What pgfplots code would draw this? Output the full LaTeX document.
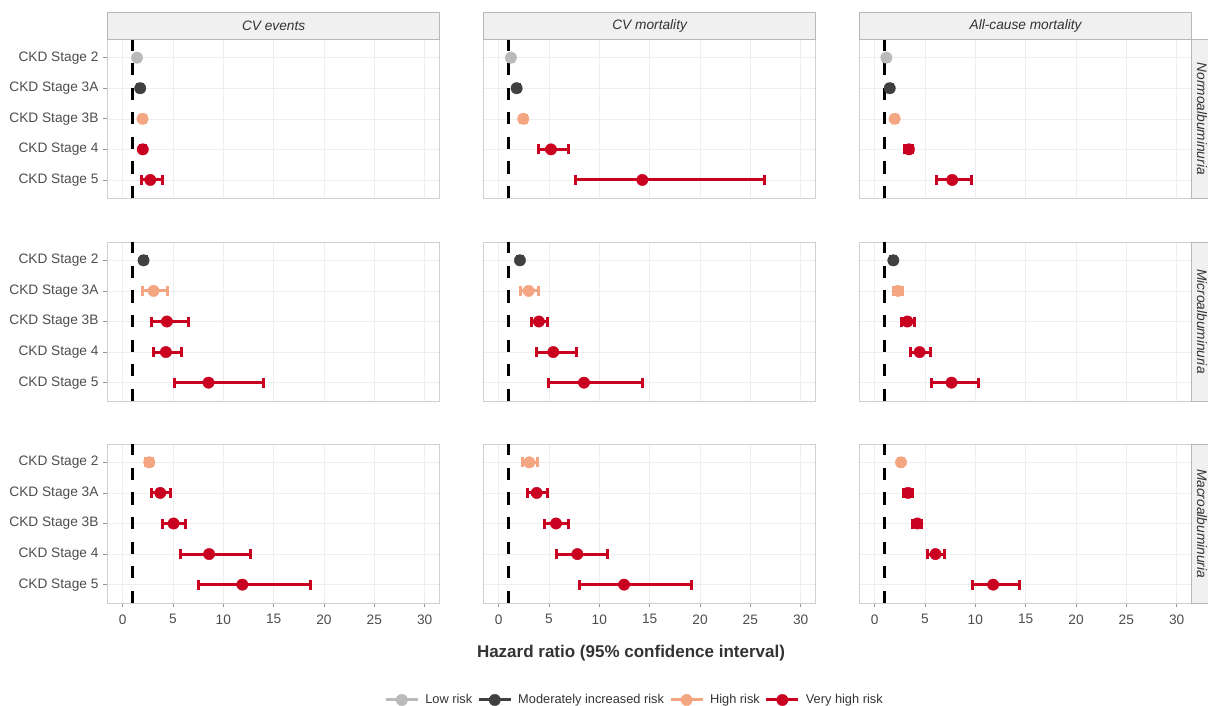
\documentclass[border=0pt]{standalone}
\usepackage{pgfplots}
\pgfplotsset{compat=1.18}
\usepackage{fontspec}
\setmainfont{Liberation Sans}
\definecolor{lowc}{HTML}{BABABA}
\definecolor{modc}{HTML}{404040}
\definecolor{highc}{HTML}{F4A582}
\definecolor{vhighc}{HTML}{CA0020}
\definecolor{gridc}{HTML}{EEEEEE}
\definecolor{framec}{HTML}{D0D0D0}
\definecolor{stripfill}{HTML}{F0F0F0}
\definecolor{stripdraw}{HTML}{B8B8B8}
\definecolor{labc}{HTML}{4D4D4D}
\definecolor{titc}{HTML}{333333}

\pgfplotsset{
  riskstyle/.style={only marks, mark=*, mark size=5.7pt, color=#1,
      mark options={draw=none, fill=#1},
      error bars/x dir=both, error bars/x explicit,
      error bars/error bar style={line width=3pt, color=#1},
      error bars/error mark options={line width=3pt, mark size=5pt, color=#1, rotate=90}},
  panel/.style={anchor=south west, scale only axis, width=332.3pt, height=159pt,
      xmin=-1.5, xmax=31.5, ymin=0.4, ymax=5.6, y dir=reverse,
      xtick={0,5,...,30}, ytick={1,2,3,4,5},
      xmajorgrids, ymajorgrids, major grid style={gridc, line width=0.6pt},
      axis line style={framec, line width=0.8pt},
      tick align=outside, major tick length=4pt,
      tick style={labc!60, line width=0.8pt},
      tick label style={font=\fontsize{13.7}{16}\selectfont, text=labc},
      xticklabel style={yshift=-4pt},
      yticklabel style={xshift=-1.5pt},
      /pgf/number format/assume math mode=true,
      xtick pos=bottom, ytick pos=left},
  leftcol/.style={yticklabels={CKD Stage 2,CKD Stage 3A,CKD Stage 3B,CKD Stage 4,CKD Stage 5}},
  notleft/.style={yticklabels={}, ytick style={draw=none}},
  notbottom/.style={xticklabels={}, xtick style={draw=none}},
}
\newcommand\refline{\addplot[black, line width=3pt, dash pattern=on 12.3pt off 12.3pt, forget plot] coordinates {(1,5.6) (1,0.4)};}
% #1 colour, #2 rows: y (1=Stage 2 ... 5=Stage 5), hazard ratio, lower CI, upper CI
\newcommand\rp[2]{\addplot[riskstyle=#1, forget plot] table[row sep=\\, x=hr, y=y, x error plus expr=\thisrow{hi}-\thisrow{hr}, x error minus expr=\thisrow{hr}-\thisrow{lo}] {y hr lo hi\\ #2};}

\begin{document}
\begin{tikzpicture}
\path[use as bounding box] (0pt,0pt) rectangle (1208pt,705pt);
% ---------- Row 1: Normoalbuminuria
\begin{axis}[panel, leftcol, notbottom, at={(107.5pt,506.7pt)}]
\refline
\rp{lowc}{1 1.43 1.18 1.68\\}
\rp{modc}{2 1.75 1.50 2.00\\}
\rp{highc}{3 1.98 1.73 2.23\\}
\rp{vhighc}{4 2.00 1.75 2.25\\ 5 2.75 1.92 3.93\\}
\end{axis}
\begin{axis}[panel, notleft, notbottom, at={(483.5pt,506.7pt)}]
\refline
\rp{lowc}{1 1.22 0.97 1.47\\}
\rp{modc}{2 1.79 1.54 2.04\\}
\rp{highc}{3 2.45 2.15 2.75\\}
\rp{vhighc}{4 5.20 3.94 6.99\\ 5 14.27 7.68 26.40\\}
\end{axis}
\begin{axis}[panel, notleft, notbottom, at={(859.5pt,506.7pt)}]
\refline
\rp{lowc}{1 1.17 0.92 1.42\\}
\rp{modc}{2 1.50 1.25 1.75\\}
\rp{highc}{3 1.99 1.74 2.24\\}
\rp{vhighc}{4 3.41 3.01 3.81\\ 5 7.71 6.12 9.65\\}
\end{axis}
% ---------- Row 2: Microalbuminuria
\begin{axis}[panel, leftcol, notbottom, at={(107.5pt,304pt)}]
\refline
\rp{modc}{1 2.08 1.83 2.33\\}
\rp{highc}{2 3.07 2.02 4.46\\}
\rp{vhighc}{3 4.40 2.91 6.54\\ 4 4.30 3.11 5.82\\ 5 8.53 5.19 14.04\\}
\end{axis}
\begin{axis}[panel, notleft, notbottom, at={(483.5pt,304pt)}]
\refline
\rp{modc}{1 2.12 1.87 2.37\\}
\rp{highc}{2 2.98 2.19 3.94\\}
\rp{vhighc}{3 4.00 3.31 4.87\\ 4 5.43 3.78 7.75\\ 5 8.48 5.00 14.24\\}
\end{axis}
\begin{axis}[panel, notleft, notbottom, at={(859.5pt,304pt)}]
\refline
\rp{modc}{1 1.86 1.61 2.11\\}
\rp{highc}{2 2.32 1.92 2.72\\}
\rp{vhighc}{3 3.25 2.65 3.97\\ 4 4.47 3.58 5.56\\ 5 7.64 5.66 10.35\\}
\end{axis}
% ---------- Row 3: Macroalbuminuria
\begin{axis}[panel, leftcol, at={(107.5pt,102pt)}]
\refline
\rp{highc}{1 2.65 2.30 3.00\\}
\rp{vhighc}{2 3.74 2.91 4.79\\ 3 5.06 4.00 6.28\\ 4 8.59 5.75 12.72\\ 5 11.89 7.57 18.67\\}
\end{axis}
\begin{axis}[panel, notleft, at={(483.5pt,102pt)},
  legend style={at={(0.4544,-0.61)}, anchor=center, draw=none, fill=none,
    legend columns=4, font=\fontsize{12.8}{15}\selectfont, text=titc,
    /tikz/every odd column/.append style={column sep=4pt},
    /tikz/every even column/.append style={column sep=3pt}},
  legend image code/.code={\draw[line width=3pt, #1] (0pt,0pt) -- (32pt,0pt); \fill[#1] (16pt,0pt) circle (5.7pt);}]
\addlegendimage{lowc}\addlegendentry{Low risk}
\addlegendimage{modc}\addlegendentry{Moderately increased risk}
\addlegendimage{highc}\addlegendentry{High risk}
\addlegendimage{vhighc}\addlegendentry{Very high risk}
\refline
\rp{highc}{1 3.05 2.38 3.90\\}
\rp{vhighc}{2 3.78 2.85 4.90\\ 3 5.70 4.57 6.99\\ 4 7.82 5.70 10.80\\ 5 12.46 8.08 19.15\\}
\end{axis}
\begin{axis}[panel, notleft, at={(859.5pt,102pt)}]
\refline
\rp{highc}{1 2.62 2.37 2.87\\}
\rp{vhighc}{2 3.31 2.86 3.76\\ 3 4.24 3.79 4.69\\ 4 6.05 5.23 6.98\\ 5 11.77 9.69 14.38\\}
\end{axis}
% ---------- strips
\foreach \xl/\lab in {107.5/CV events, 483.5/CV mortality, 859.5/All-cause mortality}{
  \draw[stripdraw, fill=stripfill, line width=0.8pt] (\xl pt,666pt) rectangle ++(332.3pt,26.3pt);
  \node[font=\itshape\fontsize{13.7}{16}\selectfont, text=titc] at ([xshift=166.15pt]\xl pt,679.2pt) {\lab};
}
\foreach \yb/\lab in {506.7/Normoalbuminuria, 304/Microalbuminuria, 102/Macroalbuminuria}{
  \draw[stripdraw, fill=stripfill, line width=0.8pt] (1191.7pt,\yb pt) rectangle ++(30pt,159pt);
  \node[font=\itshape\fontsize{13.7}{16}\selectfont, text=titc, rotate=-90] at (1202pt,\yb pt+79.5pt) {\lab};
}
\node[font=\bfseries\fontsize{17}{20}\selectfont, text=titc] at (631pt,52pt) {Hazard ratio (95\% confidence interval)};
\end{tikzpicture}
\end{document}
